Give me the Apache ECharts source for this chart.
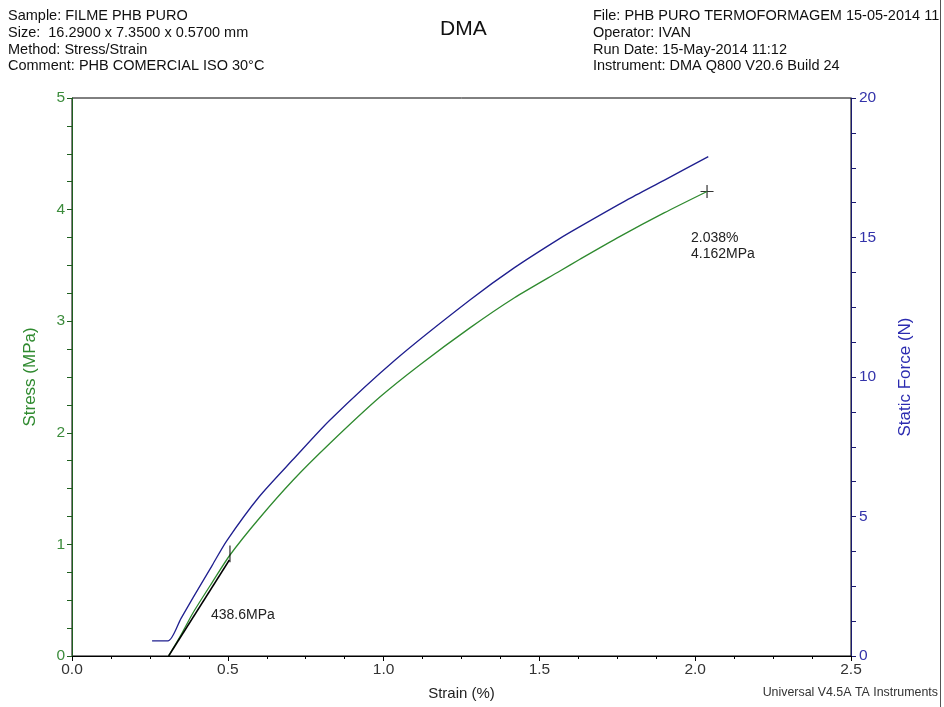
<!DOCTYPE html>
<html lang="en">
<head>
    <meta charset="utf-8">
    <title>DMA Stress/Strain</title>
    <script src="https://cdn.jsdelivr.net/npm/echarts@6/dist/echarts.min.js"></script>
</head>
<body style="margin:0;background:#fff;">
    <div id="main" style="width:944px;height:707px;"></div>

    <script type="text/javascript">
    // strain (%) vs stress (MPa) - green curve
    var stressStrain = [0.310, 0.35, 0.389, 0.45, 0.507, 0.60, 0.710, 0.828, 0.988, 1.117, 1.277, 1.42, 1.566, 1.630, 1.759, 1.90, 2.038];
    var stress       = [0.00,  0.19, 0.39,  0.66, 0.905, 1.23, 1.577, 1.906, 2.32,  2.61,  2.94,  3.21, 3.45,  3.555, 3.76,  3.97, 4.162];

    // strain (%) vs static force (N) - blue curve
    var forceStrain = [0.257, 0.308, 0.35, 0.389, 0.45, 0.496, 0.60, 0.710, 0.828, 1.037, 1.277, 1.42,  1.566, 1.630, 1.780, 1.90,  2.042];
    var force       = [0.54,  0.54,  1.35, 2.10,  3.25, 4.12,  5.70, 7.05,  8.46,  10.61, 12.76, 13.92, 14.97, 15.39, 16.34, 17.05, 17.9];

    // modulus fit line + markers
    var fitStrain = [0.31, 0.505];
    var fitStress = [0.0, 0.86];
    var tickStrain = [0.507, 0.507];
    var tickStress = [0.84, 0.99];
    var endPoint = [2.038, 4.162];

    var xTicks = [0, 2.5, 0.5];
    var leftTicks = [0, 5, 1];
    var rightTicks = [0, 20, 5];

    function pairs(xs, ys) {
        return xs.map(function (x, i) { return [x, ys[i]]; });
    }

    var green = '#2f8a2f';
    var blue = '#1f1f8f';
    var font = '"Liberation Sans", Arial, sans-serif';

    var myChart = echarts.init(document.getElementById('main'));

    var header = function (x, y, txt) {
        return {
            type: 'text', left: x, top: y,
            style: { text: txt, font: '14.5px ' + font, fill: '#111' }
        };
    };

    myChart.setOption({
        animation: false,
        backgroundColor: '#fff',
        grid: { left: 72, right: 93, top: 98, bottom: 51, show: true, borderColor: '#000', borderWidth: 1 },
        xAxis: {
            type: 'value', min: xTicks[0], max: xTicks[1], interval: xTicks[2],
            name: 'Strain (%)', nameLocation: 'middle', nameGap: 30,
            nameTextStyle: { color: '#222', fontSize: 15, fontFamily: font },
            axisLine: { lineStyle: { color: '#000' } },
            axisTick: { inside: false, length: 5, lineStyle: { color: '#000' } },
            minorTick: { show: true, splitNumber: 4, length: 3, lineStyle: { color: '#000' } },
            axisLabel: { inside: false, color: '#333', fontSize: 15.5, fontFamily: font, margin: 6,
                formatter: function (v) { return v.toFixed(1); } },
            splitLine: { show: false }
        },
        yAxis: [{
            type: 'value', min: leftTicks[0], max: leftTicks[1], interval: leftTicks[2],
            name: 'Stress (MPa)', nameLocation: 'middle', nameGap: 33, nameRotate: 90,
            nameTextStyle: { color: green, fontSize: 17, fontFamily: font },
            axisLine: { show: true, lineStyle: { color: '#1f5f1f' } },
            axisTick: { inside: false, length: 5, lineStyle: { color: '#1f5f1f' } },
            minorTick: { show: true, splitNumber: 4, length: 5, lineStyle: { color: '#1f5f1f' } },
            axisLabel: { inside: false, color: '#3c8c3c', fontSize: 15.5, fontFamily: font, margin: 7 },
            splitLine: { show: false }
        }, {
            type: 'value', min: rightTicks[0], max: rightTicks[1], interval: rightTicks[2],
            position: 'right',
            name: 'Static Force (N)', nameLocation: 'middle', nameGap: 46, nameRotate: 90,
            nameTextStyle: { color: '#2b2bb0', fontSize: 17, fontFamily: font },
            axisLine: { show: true, lineStyle: { color: '#1a1a70' } },
            axisTick: { inside: false, length: 5, lineStyle: { color: '#1a1a70' } },
            minorTick: { show: true, splitNumber: 4, length: 5, lineStyle: { color: '#1a1a70' } },
            axisLabel: { inside: false, color: '#3333aa', fontSize: 15.5, fontFamily: font, margin: 8 },
            splitLine: { show: false }
        }],
        series: [{
            name: 'Stress', type: 'line', smooth: 0.25, showSymbol: false,
            data: pairs(stressStrain, stress),
            lineStyle: { color: green, width: 1.3 }
        }, {
            name: 'Static Force', type: 'line', smooth: 0.25, showSymbol: false, yAxisIndex: 1,
            data: pairs(forceStrain, force),
            lineStyle: { color: blue, width: 1.3 }
        }, {
            name: 'fit', type: 'line', showSymbol: false,
            data: pairs(fitStrain, fitStress),
            lineStyle: { color: '#000', width: 1.5 }
        }, {
            name: 'tick', type: 'line', showSymbol: false,
            data: pairs(tickStrain, tickStress),
            lineStyle: { color: '#000', width: 1 }
        }, {
            name: 'end', type: 'scatter',
            data: [endPoint],
            symbol: 'path://M0,6L12,6M6,0L6,12', symbolSize: 13,
            itemStyle: { color: 'none', borderColor: '#000', borderWidth: 1.2 }
        }],
        graphic: [
            header(8, 8, 'Sample: FILME PHB PURO'),
            header(8, 25, 'Size:  16.2900 x 7.3500 x 0.5700 mm'),
            header(8, 42, 'Method: Stress/Strain'),
            header(8, 58, 'Comment: PHB COMERCIAL ISO 30\u00B0C'),
            header(593, 8, 'File: PHB PURO TERMOFORMAGEM 15-05-2014 11:12'),
            header(593, 25, 'Operator: IVAN'),
            header(593, 42, 'Run Date: 15-May-2014 11:12'),
            header(593, 58, 'Instrument: DMA Q800 V20.6 Build 24'),
            { type: 'text', left: 440, top: 19,
              style: { text: 'DMA', font: '21px ' + font, fill: '#111' } },
            { type: 'text', left: 211, top: 608,
              style: { text: '438.6MPa', font: '14px ' + font, fill: '#222' } },
            { type: 'text', left: 691, top: 230,
              style: { text: '2.038%\n4.162MPa', font: '14px ' + font, fill: '#222', lineHeight: 16 } },
            { type: 'text', right: 6, top: 687,
              style: { text: 'Universal V4.5A TA Instruments', font: '12.4px ' + font, fill: '#333' } },
            { type: 'rect', left: 940, top: 0, shape: { width: 4, height: 707 },
              style: { fill: '#fff' }, z: 100 },
            { type: 'rect', left: 940, top: 0, shape: { width: 1, height: 707 },
              style: { fill: '#555' }, z: 101 }
        ]
    });
    </script>
</body>
</html>
